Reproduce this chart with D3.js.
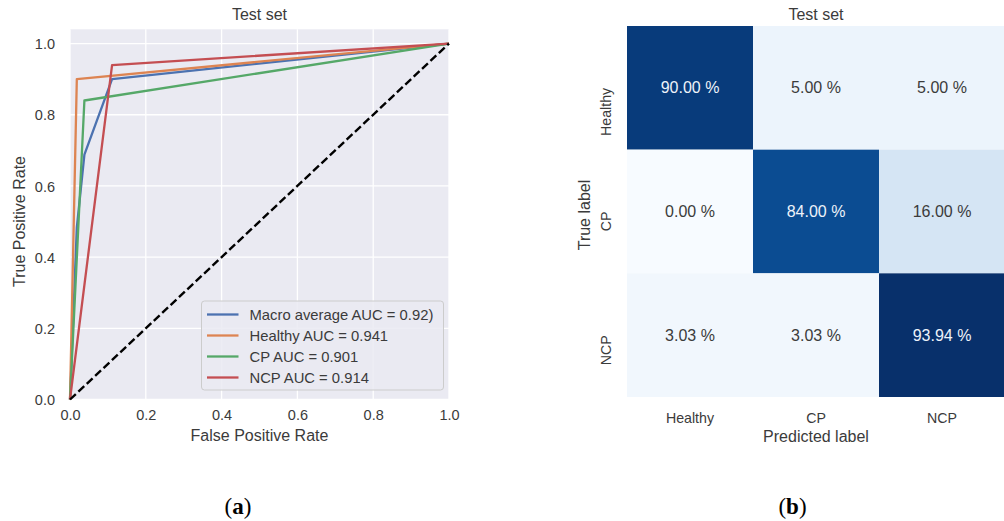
<!DOCTYPE html>
<html>
<head>
<meta charset="utf-8">
<script src="https://cdn.jsdelivr.net/npm/d3@7"></script>
<style>
  body { margin: 0; background: #fff; }
  svg { display: block; font-family: "Liberation Sans", Arial, sans-serif; }
</style>
</head>
<body>
<svg id="chart" width="1004" height="521"></svg>
<script>
// ROC curves (fpr, tpr)
const rocNames = ['Macro average AUC = 0.92)', 'Healthy AUC = 0.941', 'CP AUC = 0.901', 'NCP AUC = 0.914'];
const rocColors = ['#4c72b0', '#dd8452', '#55a868', '#c44e52'];
const macroFpr = [0, 0.018, 0.038, 0.111, 1];
const macroTpr = [0, 0.483, 0.688, 0.900, 1];
const healthyFpr = [0, 0.018, 1];
const healthyTpr = [0, 0.900, 1];
const cpFpr = [0, 0.038, 1];
const cpTpr = [0, 0.840, 1];
const ncpFpr = [0, 0.111, 1];
const ncpTpr = [0, 0.9394, 1];
const rocTicks = [0, 0.2, 0.4, 0.6, 0.8, 1.0];

// confusion matrix (% of true label)
const classes = ['Healthy', 'CP', 'NCP'];
const rowHealthy = [90.00, 5.00, 5.00];
const rowCP = [0.00, 84.00, 16.00];
const rowNCP = [3.03, 3.03, 93.94];

const svg = d3.select('#chart');
const textCol = '#3b3b3b';

// ---- (a) ROC ----
const x = d3.scaleLinear().domain([0, 1]).range([70, 449]);
const y = d3.scaleLinear().domain([0, 1.04]).range([399.5, 29.3]);

svg.append('rect')
  .attr('x', x(0)).attr('y', y(1.04))
  .attr('width', x(1) - x(0)).attr('height', y(0) - y(1.04))
  .attr('fill', '#eaeaf2');

const grid = svg.append('g');
grid.selectAll('line.vx').data(rocTicks).join('line')
  .attr('x1', d => x(d)).attr('x2', d => x(d))
  .attr('y1', y(0)).attr('y2', y(1.04))
  .attr('stroke', '#fff').attr('stroke-width', 1.3);
grid.selectAll('line.hy').data(rocTicks).join('line')
  .attr('y1', d => y(d)).attr('y2', d => y(d))
  .attr('x1', x(0)).attr('x2', x(1))
  .attr('stroke', '#fff').attr('stroke-width', 1.3);

const xAxis = svg.append('g')
  .attr('transform', `translate(0,${y(0)})`)
  .call(d3.axisBottom(x).tickValues(rocTicks).tickFormat(d3.format('.1f')).tickSize(0).tickPadding(10));
const yAxis = svg.append('g')
  .attr('transform', `translate(${x(0)},0)`)
  .call(d3.axisLeft(y).tickValues(rocTicks).tickFormat(d3.format('.1f')).tickSize(0).tickPadding(15));
[xAxis, yAxis].forEach(a => {
  a.select('.domain').remove();
  a.selectAll('text').attr('fill', textCol).attr('font-size', 14.5)
    .attr('font-family', '"Liberation Sans", Arial, sans-serif');
});
yAxis.selectAll('text').attr('dy', '0.35em');

const curves = [
  [macroFpr, macroTpr], [healthyFpr, healthyTpr], [cpFpr, cpTpr], [ncpFpr, ncpTpr]
];
const line = d3.line().x(d => x(d[0])).y(d => y(d[1]));
curves.forEach((c, i) => {
  svg.append('path')
    .datum(c[0].map((f, j) => [f, c[1][j]]))
    .attr('d', line)
    .attr('fill', 'none')
    .attr('stroke', rocColors[i])
    .attr('stroke-width', 2.3)
    .attr('stroke-linejoin', 'round');
});
svg.append('path')
  .datum([[0, 0], [1, 1]])
  .attr('d', line)
  .attr('fill', 'none')
  .attr('stroke', '#000')
  .attr('stroke-width', 2.4)
  .attr('stroke-dasharray', '8,3.5');

svg.append('text').attr('x', (x(0) + x(1)) / 2).attr('y', 20)
  .attr('text-anchor', 'middle').attr('font-size', 16).attr('fill', textCol).text('Test set');
svg.append('text').attr('x', (x(0) + x(1)) / 2).attr('y', 441)
  .attr('text-anchor', 'middle').attr('font-size', 16).attr('fill', textCol).text('False Positive Rate');
svg.append('text').attr('transform', `translate(25,${(y(0) + y(1)) / 2}) rotate(-90)`)
  .attr('text-anchor', 'middle').attr('font-size', 16).attr('fill', textCol).text('True Positive Rate');

// legend
const leg = svg.append('g').attr('transform', 'translate(201.5,301)');
leg.append('rect').attr('width', 242).attr('height', 89).attr('rx', 3)
  .attr('fill', '#eaeaf2').attr('fill-opacity', 0.85)
  .attr('stroke', '#cccccc').attr('stroke-width', 1);
rocNames.forEach((n, i) => {
  const yy = 13.5 + i * 21;
  leg.append('line').attr('x1', 5.5).attr('x2', 37).attr('y1', yy).attr('y2', yy)
    .attr('stroke', rocColors[i]).attr('stroke-width', 2.3);
  leg.append('text').attr('x', 48).attr('y', yy).attr('dy', '0.35em')
    .attr('font-size', 14.8).attr('fill', textCol).text(n);
});

// ---- (b) confusion matrix ----
const matrix = [rowHealthy, rowCP, rowNCP];
const cx = d3.scaleBand().domain(classes).range([627, 1005]);
const cy = d3.scaleBand().domain(classes).range([26, 397]);
const vmax = d3.max(matrix.flat());
const color = d3.scaleSequential(d3.interpolateBlues).domain([0, vmax]);

const cells = [];
matrix.forEach((row, i) => row.forEach((v, j) => cells.push({ r: classes[i], c: classes[j], v })));

svg.append('g').selectAll('rect').data(cells).join('rect')
  .attr('x', d => cx(d.c)).attr('y', d => cy(d.r))
  .attr('width', cx.bandwidth()).attr('height', cy.bandwidth())
  .attr('fill', d => color(d.v));

svg.append('g').selectAll('text').data(cells).join('text')
  .attr('x', d => cx(d.c) + cx.bandwidth() / 2)
  .attr('y', d => cy(d.r) + cy.bandwidth() / 2)
  .attr('dy', '0.35em')
  .attr('text-anchor', 'middle')
  .attr('font-size', 16)
  .attr('fill', d => d.v / vmax > 0.6 ? '#eef3fa' : textCol)
  .text(d => d.v.toFixed(2) + ' %');

svg.append('g').selectAll('text').data(classes).join('text')
  .attr('x', d => cx(d) + cx.bandwidth() / 2).attr('y', 423)
  .attr('text-anchor', 'middle').attr('font-size', 14.2).attr('fill', textCol).text(d => d);
svg.append('g').selectAll('text').data(classes).join('text')
  .attr('transform', d => `translate(611,${cy(d) + cy.bandwidth() / 2}) rotate(-90)`)
  .attr('text-anchor', 'end').attr('font-size', 14.2).attr('fill', textCol).text(d => d);

svg.append('text').attr('x', 816).attr('y', 20)
  .attr('text-anchor', 'middle').attr('font-size', 16).attr('fill', textCol).text('Test set');
svg.append('text').attr('x', 816).attr('y', 442)
  .attr('text-anchor', 'middle').attr('font-size', 16).attr('fill', textCol).text('Predicted label');
svg.append('text').attr('transform', `translate(590,215) rotate(-90)`)
  .attr('text-anchor', 'middle').attr('font-size', 16).attr('fill', textCol).text('True label');

// captions
[['a', 238], ['b', 792.5]].forEach(([t, xx]) => {
  const cap = svg.append('text').attr('x', xx).attr('y', 514)
    .attr('text-anchor', 'middle').attr('font-size', 23)
    .attr('font-family', '"Liberation Serif", "DejaVu Serif", serif').attr('fill', '#000');
  cap.append('tspan').text('(');
  cap.append('tspan').attr('font-weight', 'bold').text(t);
  cap.append('tspan').text(')');
});
</script>
</body>
</html>
